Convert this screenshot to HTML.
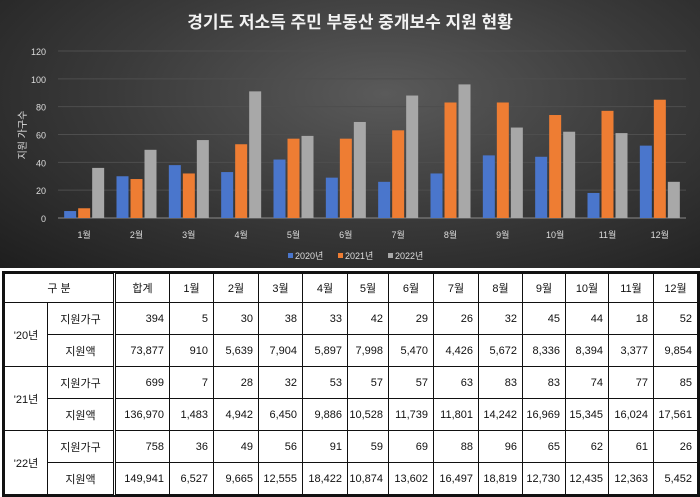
<!DOCTYPE html>
<html><head><meta charset="utf-8">
<style>
body{margin:0;width:700px;height:497px;background:#fff;overflow:hidden;font-family:"Liberation Sans","Noto Sans CJK KR",sans-serif;}
#chart{position:absolute;left:0;top:0;width:700px;height:268px;background:radial-gradient(ellipse at 55% 35%,#5a5a5a 0%,#3a3a3a 50%,#1e1e1e 100%);}
table{position:absolute;left:4px;top:273px;border-collapse:collapse;font-size:11px;color:#111;}
td{border:1px solid #111;text-align:right;padding:0 5px 0 0;height:32px;box-sizing:border-box;}
td.c{text-align:center;padding:0;}
tr.h td{height:29px;text-align:center;padding:0;}
table{outline:2px solid #111;}
td.dbl{border-right:3px double #111;}
</style></head><body>
<div id="chart">
<svg id="svg" width="700" height="268" xmlns="http://www.w3.org/2000/svg"></svg>
</div>
<table>
<colgroup><col style="width:43px"><col style="width:67px"><col style="width:55px"><col style="width:44px"><col style="width:45px"><col style="width:44px"><col style="width:45px"><col style="width:41px"><col style="width:45px"><col style="width:45px"><col style="width:44px"><col style="width:43px"><col style="width:43px"><col style="width:45px"><col style="width:44px"></colgroup>
<tr class="h"><td colspan="2" class="dbl">구 분</td><td>합계</td><td>1월</td><td>2월</td><td>3월</td><td>4월</td><td>5월</td><td>6월</td><td>7월</td><td>8월</td><td>9월</td><td>10월</td><td>11월</td><td>12월</td></tr>
<tr><td rowspan="2" class="c">'20년</td><td class="c dbl">지원가구</td><td>394</td><td>5</td><td>30</td><td>38</td><td>33</td><td>42</td><td>29</td><td>26</td><td>32</td><td>45</td><td>44</td><td>18</td><td>52</td></tr>
<tr><td class="c dbl">지원액</td><td>73,877</td><td>910</td><td>5,639</td><td>7,904</td><td>5,897</td><td>7,998</td><td>5,470</td><td>4,426</td><td>5,672</td><td>8,336</td><td>8,394</td><td>3,377</td><td>9,854</td></tr>
<tr><td rowspan="2" class="c">'21년</td><td class="c dbl">지원가구</td><td>699</td><td>7</td><td>28</td><td>32</td><td>53</td><td>57</td><td>57</td><td>63</td><td>83</td><td>83</td><td>74</td><td>77</td><td>85</td></tr>
<tr><td class="c dbl">지원액</td><td>136,970</td><td>1,483</td><td>4,942</td><td>6,450</td><td>9,886</td><td>10,528</td><td>11,739</td><td>11,801</td><td>14,242</td><td>16,969</td><td>15,345</td><td>16,024</td><td>17,561</td></tr>
<tr><td rowspan="2" class="c">'22년</td><td class="c dbl">지원가구</td><td>758</td><td>36</td><td>49</td><td>56</td><td>91</td><td>59</td><td>69</td><td>88</td><td>96</td><td>65</td><td>62</td><td>61</td><td>26</td></tr>
<tr><td class="c dbl">지원액</td><td>149,941</td><td>6,527</td><td>9,665</td><td>12,555</td><td>18,422</td><td>10,874</td><td>13,602</td><td>16,497</td><td>18,819</td><td>12,730</td><td>12,435</td><td>12,363</td><td>5,452</td></tr>
</table>
<script>
const categories=["1월","2월","3월","4월","5월","6월","7월","8월","9월","10월","11월","12월"];
const seriesNames=["2020년","2021년","2022년"];
const s2020=[5,30,38,33,42,29,26,32,45,44,18,52];
const s2021=[7,28,32,53,57,57,63,83,83,74,77,85];
const s2022=[36,49,56,91,59,69,88,96,65,62,61,26];
const yTicks=[0,20,40,60,80,100,120];
const colors=["#4a76cc","#ee7d33","#a8a8a8"];
const NS="http://www.w3.org/2000/svg";
const svg=document.getElementById('svg');
const L=58,R=686,Y0=218,Y1=51;
const y=v=>Y0-(v/120)*(Y0-Y1);
const bw=(R-L)/categories.length;
const x=i=>L+bw*i;
function mk(t,a,p){const e=document.createElementNS(NS,t);for(const k in a)e.setAttribute(k,a[k]);(p||svg).appendChild(e);return e;}
let t=mk('text',{x:350,y:28,'text-anchor':'middle',fill:'#f2f2f2','font-size':17,'font-weight':'bold'});t.textContent="경기도 저소득 주민 부동산 중개보수 지원 현황";


t=mk('text',{x:0,y:0,transform:'translate(26,135) rotate(-90)','text-anchor':'middle',fill:'#ddd','font-size':10});t.textContent="지원 가구수";


yTicks.forEach(v=>{
 const g=mk('line',{x1:L,x2:R,y1:y(v),y2:y(v),stroke:v===0?'#8a8a8a':'#4e4e4e','stroke-width':1});
 
 
 const l=mk('text',{x:46,y:y(v)+4,'text-anchor':'end',fill:'#ddd','font-size':9});l.textContent=v;
 
 
});
const all=[s2020,s2021,s2022];
categories.forEach((c,i)=>{
 all.forEach((s,k)=>{
  const bx=x(i)+bw/2-20+k*14;
  const r=mk('rect',{x:bx,y:y(s[i]),width:12,height:Y0-y(s[i]),fill:colors[k]});
  
  
 });
 const l=mk('text',{x:x(i)+bw/2,y:238,'text-anchor':'middle',fill:'#ddd','font-size':9});l.textContent=c;
 
 
});
seriesNames.forEach((n,k)=>{
 const lx=288+k*50;
 const r=mk('rect',{x:lx,y:253,width:5,height:5,fill:colors[k]});
 
 
 const l=mk('text',{x:lx+7,y:259,fill:'#ddd','font-size':9});l.textContent=n;
 
 
});
</script>
</body></html>
